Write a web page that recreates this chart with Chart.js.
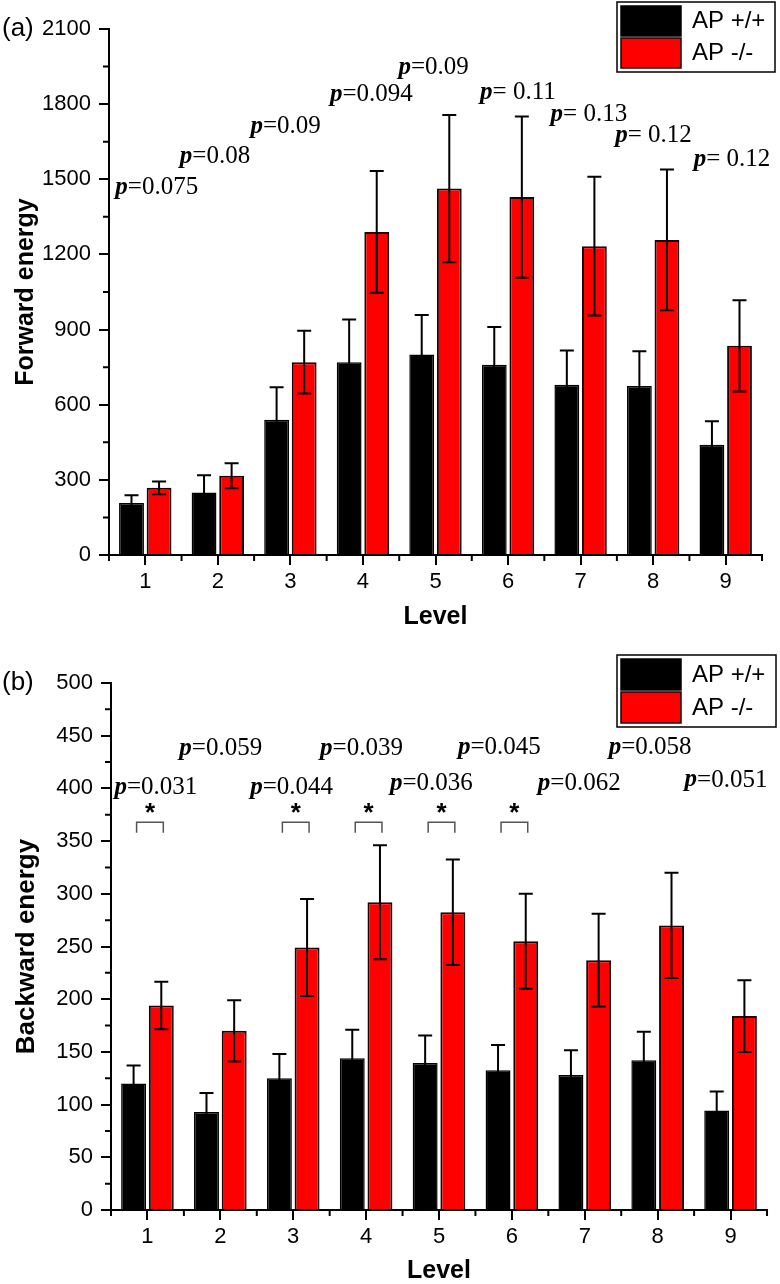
<!DOCTYPE html>
<html>
<head>
<meta charset="utf-8">
<script src="https://cdn.jsdelivr.net/npm/chart.js@4"></script>
<style>
  html, body { margin: 0; padding: 0; background: #fff; }
  .panel { width: 780px; height: 642px; }
</style>
</head>
<body>
<div class="panel"><canvas id="chartA" width="780" height="642"></canvas></div>
<div class="panel"><canvas id="chartB" width="780" height="642"></canvas></div>
<script>
// ---- data ----
const levels = ['1', '2', '3', '4', '5', '6', '7', '8', '9'];

// (a) forward energy
const fwdWT    = [208, 250, 540, 770, 800, 760, 680, 675, 440];
const fwdWTErr = [31, 68, 130, 170, 158, 150, 136, 138, 94];
const fwdKO    = [268, 316, 770, 1290, 1463, 1429, 1233, 1258, 835];
const fwdKOErr = [25, 50, 125, 243, 294, 322, 277, 281, 182];
const fwdTicks = [0, 300, 600, 900, 1200, 1500, 1800, 2100];
const fwdP     = ['0.075', '0.08', '0.09', '0.094', '0.09', ' 0.11', ' 0.13', ' 0.12', ' 0.12'];

// (b) backward energy
const bwdWT    = [120, 93, 125, 144, 139.5, 132.5, 128, 142, 94.5];
const bwdWTErr = [17, 18, 23, 27, 26, 24, 23.5, 27, 18];
const bwdKO    = [194, 170, 249, 292, 282.5, 255, 237, 270, 184];
const bwdKOErr = [22.5, 29, 46, 54, 50, 45, 44, 50, 34];
const bwdTicks = [0, 50, 100, 150, 200, 250, 300, 350, 400, 450, 500];
const bwdP     = ['0.031', '0.059', '0.044', '0.039', '0.036', '0.045', '0.062', '0.058', '0.051'];
const bwdSig   = [true, false, true, true, true, true, false, false, false];

// where the p labels sit: [pixel shift from level centre, height in axis units]
const fwdPPos = [[-30, 1468], [-38, 1592], [-40, 1712], [-33, 1840], [-37, 1948],
                 [-28, 1848], [-30, 1760], [-38, 1676], [-32, 1580]];
const bwdPPos = [[-33, 401], [-41, 438], [-43, 401], [-46, 438], [-49, 405],
                 [-54, 439], [-47, 405], [-49, 439], [-46, 408]];

const SANS = '"Liberation Sans", Arial, Helvetica, sans-serif';
const SERIF = '"Liberation Serif", "Times New Roman", serif';

// ---- plugins ----
const errorBars = {
  id: 'errorBars',
  afterDatasetsDraw(chart, args, opts) {
    const ctx = chart.ctx, y = chart.scales.y;
    ctx.save();
    ctx.strokeStyle = '#000';
    ctx.lineWidth = 2;
    chart.data.datasets.forEach((ds, di) => {
      const errs = opts.errors[di];
      chart.getDatasetMeta(di).data.forEach((bar, i) => {
        const v = ds.data[i], e = errs[i];
        const yt = y.getPixelForValue(v + e), yb = y.getPixelForValue(v - e);
        ctx.beginPath();
        ctx.moveTo(bar.x, yt); ctx.lineTo(bar.x, yb);
        ctx.moveTo(bar.x - 7, yt); ctx.lineTo(bar.x + 7, yt);
        ctx.moveTo(bar.x - 7, yb); ctx.lineTo(bar.x + 7, yb);
        ctx.stroke();
      });
    });
    ctx.restore();
  }
};

const minorTicks = {
  id: 'minorTicks',
  afterDraw(chart) {
    const ctx = chart.ctx, x = chart.scales.x, y = chart.scales.y;
    ctx.save();
    ctx.strokeStyle = '#000';
    ctx.lineWidth = 2;
    ctx.beginPath();
    for (let i = 0; i <= chart.data.labels.length; i++) {
      const px = x.getPixelForValue(i - 0.5);
      ctx.moveTo(px, x.top); ctx.lineTo(px, x.top + 6);
    }
    const t = y.ticks;
    for (let i = 0; i < t.length - 1; i++) {
      const py = y.getPixelForValue((t[i].value + t[i + 1].value) / 2);
      ctx.moveTo(y.right, py); ctx.lineTo(y.right - 6, py);
    }
    ctx.stroke();
    ctx.restore();
  }
};

const legendBox = {
  id: 'legendBox',
  afterDraw(chart, args, o) {
    const ctx = chart.ctx;
    ctx.save();
    ctx.lineWidth = 1.5;
    ctx.strokeStyle = '#000';
    ctx.strokeRect(o.x, o.y, o.w, o.h);
    const rowH = (o.h - 8) / 2;
    chart.data.datasets.forEach((ds, i) => {
      const ry = o.y + 4 + i * (rowH + 1);
      ctx.fillStyle = ds.backgroundColor;
      ctx.fillRect(o.x + 4, ry, 60, rowH - 1);
      ctx.strokeStyle = ds.borderColor;
      ctx.strokeRect(o.x + 4, ry, 60, rowH - 1);
      ctx.fillStyle = '#000';
      ctx.font = '24px ' + SANS;
      ctx.textBaseline = 'middle';
      ctx.textAlign = 'left';
      ctx.fillText(ds.label, o.x + 75, ry + rowH / 2);
    });
    ctx.restore();
  }
};

const notes = {
  id: 'notes',
  afterDraw(chart, args, o) {
    const ctx = chart.ctx, x = chart.scales.x, y = chart.scales.y;
    ctx.save();
    ctx.fillStyle = '#000';
    ctx.textBaseline = 'middle';
    ctx.textAlign = 'left';
    ctx.font = '26px ' + SANS;
    ctx.fillText(o.panel, 2, o.panelY);
    o.texts.forEach((txt, i) => {
      const px = x.getPixelForValue(i) + o.pos[i][0];
      const py = y.getPixelForValue(o.pos[i][1]);
      ctx.font = 'italic bold 25px ' + SERIF;
      ctx.fillText('p', px, py);
      const w = ctx.measureText('p').width;
      ctx.font = '25px ' + SERIF;
      ctx.fillText('=' + txt, px + w, py);
    });
    if (o.sig) {
      const m0 = chart.getDatasetMeta(0).data, m1 = chart.getDatasetMeta(1).data;
      o.sig.forEach((s, i) => {
        if (!s) return;
        const x0 = m0[i].x + 3, x1 = m1[i].x + 2;
        const yTop = y.getPixelForValue(o.bracket[1]), yLeg = y.getPixelForValue(o.bracket[0]);
        ctx.strokeStyle = '#555';
        ctx.lineWidth = 1.5;
        ctx.beginPath();
        ctx.moveTo(x0, yLeg); ctx.lineTo(x0, yTop); ctx.lineTo(x1, yTop); ctx.lineTo(x1, yLeg);
        ctx.stroke();
        ctx.font = 'bold 26px ' + SANS;
        ctx.textAlign = 'center';
        ctx.fillText('*', (x0 + x1) / 2, y.getPixelForValue(o.bracket[2]));
        ctx.textAlign = 'left';
      });
    }
    ctx.restore();
  }
};

function buildChart(id, o) {
  const axisFont = { family: SANS, size: 22 };
  const titleFont = { family: SANS, size: o.titleSize, weight: 'bold', lineHeight: 1 };
  return new Chart(document.getElementById(id), {
    type: 'bar',
    data: {
      labels: levels,
      datasets: [
        { label: 'AP +/+', data: o.wt, backgroundColor: '#000000', borderColor: '#000000', borderWidth: 1.5 },
        { label: 'AP -/-', data: o.ko, backgroundColor: '#ff0000', borderColor: '#1a0505', borderWidth: 2 }
      ]
    },
    options: {
      responsive: false,
      animation: false,
      layout: { padding: { top: o.top, right: o.right, left: 0, bottom: 0 } },
      datasets: { bar: { categoryPercentage: 0.76, barPercentage: 0.9 } },
      plugins: {
        legend: { display: false },
        tooltip: { enabled: false },
        errorBars: { errors: [o.wtErr, o.koErr] },
        legendBox: o.legend,
        notes: { panel: o.panel, panelY: o.panelY, texts: o.p, pos: o.pPos, sig: o.sig, bracket: o.bracket }
      },
      scales: {
        x: {
          grid: { offset: false, drawOnChartArea: false, drawTicks: true, tickLength: 10, color: '#000', lineWidth: 2 },
          border: { display: true, color: '#000', width: 2 },
          ticks: { color: '#000', font: axisFont, padding: 4, maxRotation: 0 },
          title: { display: true, text: 'Level', color: '#000', font: { family: SANS, size: 25, weight: 'bold', lineHeight: 1 },
                   padding: { top: 0, bottom: o.levelPad } },
          afterFit: s => { s.height = o.xh; }
        },
        y: {
          min: 0, max: o.ticks[o.ticks.length - 1],
          afterBuildTicks: s => { s.ticks = o.ticks.map(v => ({ value: v })); },
          grid: { drawOnChartArea: false, drawTicks: true, tickLength: 10, color: '#000', lineWidth: 2 },
          border: { display: true, color: '#000', width: 2 },
          ticks: { color: '#000', font: axisFont, padding: 8, callback: v => String(v) },
          title: { display: true, text: o.title, color: '#000', font: titleFont, padding: { top: 14, bottom: 0 } },
          afterFit: s => { s.width = o.yw; }
        }
      }
    },
    plugins: [errorBars, minorTicks, legendBox, notes]
  });
}

buildChart('chartA', {
  wt: fwdWT, wtErr: fwdWTErr, ko: fwdKO, koErr: fwdKOErr, ticks: fwdTicks,
  p: fwdP, pPos: fwdPPos, sig: null, bracket: null,
  title: 'Forward energy', titleSize: 25, panel: '(a)', panelY: 29,
  top: 29, right: 18, xh: 87, yw: 109, levelPad: 12,
  legend: { x: 617, y: 2, w: 158, h: 70 }
});

buildChart('chartB', {
  wt: bwdWT, wtErr: bwdWTErr, ko: bwdKO, koErr: bwdKOErr, ticks: bwdTicks,
  p: bwdP, pPos: bwdPPos, sig: bwdSig, bracket: [358, 368, 376],
  title: 'Backward energy', titleSize: 26, panel: '(b)', panelY: 41,
  top: 41, right: 13, xh: 74, yw: 111, levelPad: 0,
  legend: { x: 617, y: 13, w: 159, h: 72 }
});
</script>
</body>
</html>
